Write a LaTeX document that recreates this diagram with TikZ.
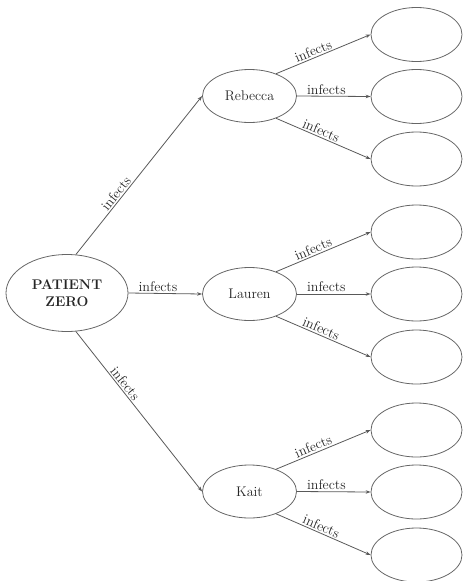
\documentclass[tikz,border=0pt]{standalone}
\usetikzlibrary{shapes.geometric,arrows.meta}
\begin{document}
\begin{tikzpicture}[x=1pt,y=-1pt,
  oval/.style={ellipse,draw=black!60,line width=0.8pt,inner sep=0pt,text=black!85,font=\fontsize{14}{16}\selectfont},
  zero/.style={oval,minimum width=122pt,minimum height=77pt,align=center,font=\fontsize{14}{17}\selectfont\bfseries},
  person/.style={oval,minimum width=94pt,minimum height=53pt},
  leaf/.style={oval,minimum width=91pt,minimum height=54pt},
  link/.style={draw=black!65,line width=0.8pt,-{Stealth[length=5pt,width=3.5pt]}},
  lbl/.style={font=\fontsize{14}{16}\selectfont,text=black!85,sloped,above,inner sep=1.5pt}
]
\useasboundingbox (0,0) rectangle (463,581);
\node[zero] (pz) at (67,293) {PATIENT\\ZERO};
\node[person] (reb) at (249.5,96) {Rebecca};
\node[person] (lau) at (249.5,294) {Lauren};
\node[person] (kai) at (249.5,491.5) {Kait};
\node[leaf] (r1) at (416.5,34.5) {};
\node[leaf] (r2) at (416.5,96.5) {};
\node[leaf] (r3) at (416.5,159) {};
\node[leaf] (l1) at (416.5,232) {};
\node[leaf] (l2) at (416.5,294) {};
\node[leaf] (l3) at (416.5,357) {};
\node[leaf] (k1) at (416.5,430) {};
\node[leaf] (k2) at (416.5,492) {};
\node[leaf] (k3) at (416.5,555) {};
\draw[link] (pz.77) -- node[lbl,pos=0.36] {infects} (reb.west);
\draw[link] (pz.east) -- node[lbl,pos=0.4] {infects} (lau.west);
\draw[link] (pz.-77) -- node[lbl,pos=0.35] {infects} (kai.west);
\foreach \p/\a/\b/\c in {reb/r1/r2/r3, lau/l1/l2/l3, kai/k1/k2/k3}{
  \draw[link] (\p.40) -- node[lbl,pos=0.42] {infects} (\a.west);
  \draw[link] (\p.east) -- node[lbl,pos=0.4] {infects} (\b.west);
  \draw[link] (\p.-40) -- node[lbl,pos=0.45] {infects} (\c.west);
}
\end{tikzpicture}
\end{document}
